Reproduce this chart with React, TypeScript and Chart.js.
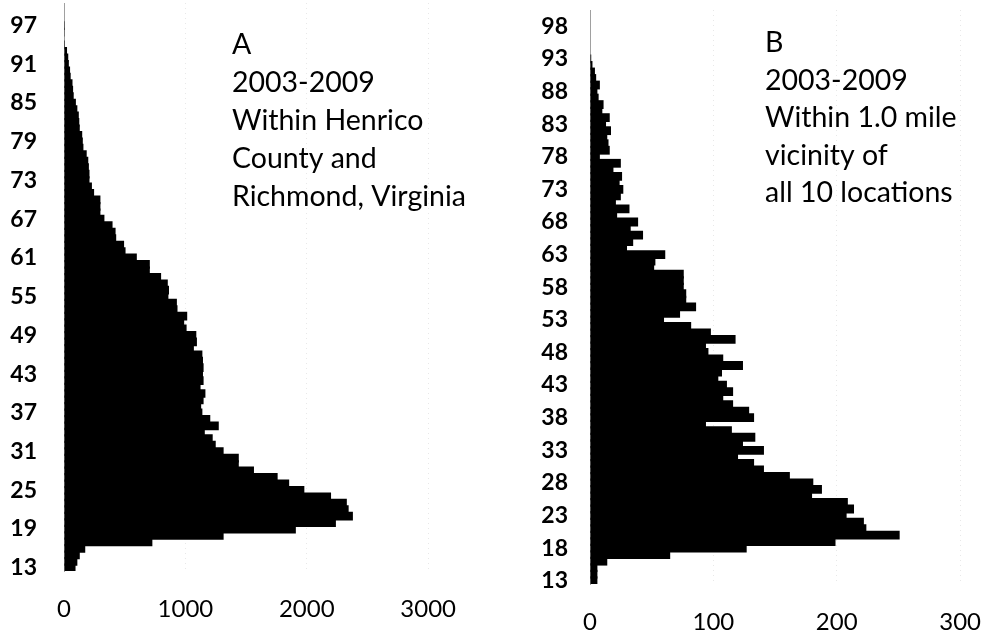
import React, { useEffect, useRef } from "react";
import { Chart, registerables } from "chart.js";

Chart.register(...registerables);

// Age categories (shared by both panels)
const ages = [
  13, 14, 15, 16, 17, 18, 19, 20, 21, 22,
  23, 24, 25, 26, 27, 28, 29, 30, 31, 32,
  33, 34, 35, 36, 37, 38, 39, 40, 41, 42,
  43, 44, 45, 46, 47, 48, 49, 50, 51, 52,
  53, 54, 55, 56, 57, 58, 59, 60, 61, 62,
  63, 64, 65, 66, 67, 68, 69, 70, 71, 72,
  73, 74, 75, 76, 77, 78, 79, 80, 81, 82,
  83, 84, 85, 86, 87, 88, 89, 90, 91, 92,
  93, 94, 95, 96, 97, 98, 99, 100,
];

// Panel A: Henrico County and Richmond
const countsA = [
  95, 110, 130, 175, 728, 1315, 1910, 2240, 2380, 2345,
  2330, 2200, 1980, 1855, 1760, 1565, 1440, 1440, 1315, 1250,
  1225, 1160, 1275, 1205, 1140, 1130, 1150, 1165, 1125, 1150,
  1145, 1150, 1145, 1140, 1070, 1095, 1090, 1010, 990, 1015,
  935, 930, 860, 865, 855, 800, 707, 707, 600, 507,
  495, 430, 425, 400, 333, 300, 300, 300, 248, 230,
  210, 210, 205, 200, 187, 160, 155, 150, 130, 126,
  122, 110, 98, 80, 75, 70, 55, 50, 40, 35,
  25, 8, 4, 2, 1, 0, 0, 0,
];

// Panel B: within 1.0 mile of all 10 locations
const countsB = [
  6, 6, 6, 14, 65, 127, 199, 251, 224, 222,
  208, 214, 209, 180, 188, 181, 162, 141, 133, 120,
  141, 124, 134, 115, 94, 133, 129, 116, 108, 116,
  111, 104, 107, 124, 108, 96, 94, 118, 98, 82,
  60, 73, 86, 78, 78, 76, 76, 76, 52, 53,
  61, 30, 35, 43, 33, 39, 22, 32, 21, 25,
  27, 24, 26, 19, 25, 8, 16, 15, 14, 17,
  13, 16, 10, 11, 7, 6, 8, 5, 4, 2,
  1, 0, 0, 0, 0, 0, 0, 0,
];

const tickAgesA = [13, 19, 25, 31, 37, 43, 49, 55, 61, 67, 73, 79, 85, 91, 97];
const tickAgesB = [13, 18, 23, 28, 33, 38, 43, 48, 53, 58, 63, 68, 73, 78, 83, 88, 93, 98];
const xTicksA = [0, 1000, 2000, 3000];
const xTicksB = [0, 100, 200, 300];

const notesA = ["A", "2003-2009", "Within Henrico", "County and", "Richmond, Virginia"];
const notesB = ["B", "2003-2009", "Within 1.0 mile", "vicinity of", "all 10 locations"];

const FONT = "Lato, 'Open Sans', sans-serif";

const notePlugin = {
  id: "notes",
  afterDraw(chart: any, _args: any, opts: any) {
    const ctx = chart.ctx;
    ctx.save();
    ctx.font = opts.font;
    ctx.fillStyle = "#000";
    ctx.textBaseline = "middle";
    ctx.textAlign = "left";
    opts.lines.forEach((t: string, i: number) => {
      ctx.fillText(t, opts.x, opts.y + i * opts.step);
    });
    ctx.restore();
  },
};

type PanelCfg = {
  counts: number[];
  tickAges: number[];
  xTicks: number[];
  xMax: number;
  yAxisWidth: number;
  xAxisHeight: number;
  padTop: number;
  padRight: number;
  yPad: number;
  xPad: number;
  notes: string[];
  noteX: number;
  noteY: number;
  noteStep: number;
};

function makeChart(canvas: HTMLCanvasElement, c: PanelCfg) {
  return new Chart(canvas, {
    type: "bar",
    data: {
      labels: ages.map(String),
      datasets: [
        {
          data: c.counts,
          backgroundColor: "#000",
          borderWidth: 0,
          barPercentage: 1.35,
          categoryPercentage: 1,
          inflateAmount: 0,
        },
      ],
    },
    options: {
      indexAxis: "y",
      responsive: false,
      animation: false,
      datasets: { bar: { barPercentage: 1.35, categoryPercentage: 1 } },
      layout: { padding: { top: c.padTop, right: c.padRight, left: 0, bottom: 0 } },
      plugins: {
        legend: { display: false },
        tooltip: { enabled: false },
        notes: {
          lines: c.notes,
          x: c.noteX,
          y: c.noteY,
          step: c.noteStep,
          font: `28.5px ${FONT}`,
        },
      } as any,
      scales: {
        x: {
          type: "linear",
          min: 0,
          max: c.xMax,
          afterBuildTicks: (s: any) => {
            s.ticks = c.xTicks.map((v) => ({ value: v }));
          },
          afterFit: (s: any) => {
            s.height = c.xAxisHeight;
          },
          ticks: {
            color: "#000",
            padding: c.xPad,
            font: { family: FONT, size: 24 },
            maxRotation: 0,
            callback: (v: any) => String(v),
          },
          grid: {
            drawTicks: false,
            color: (ctx: any) => (ctx.tick && ctx.tick.value === 0 ? "rgba(0,0,0,0)" : "rgba(0,0,0,0.09)"),
            lineWidth: 1,
          },
          border: { display: false, dash: [1, 4] },
        },
        y: {
          type: "category",
          reverse: true,
          afterFit: (s: any) => {
            s.width = c.yAxisWidth;
            s.paddingTop = 0;
            s.paddingBottom = 0;
          },
          ticks: {
            autoSkip: false,
            color: "#000",
            padding: c.yPad,
            font: { family: FONT, size: 23, weight: "bold" },
            callback: (v: any) => {
              const age = ages[v as number];
              return c.tickAges.includes(age) ? String(age) : "";
            },
          },
          grid: { display: false, drawTicks: false },
          border: { display: true, color: "#a0a0a0", dash: [2, 2], width: 1 },
        },
      },
    } as any,
    plugins: [notePlugin as any],
  });
}

function Panel({ left, width, cfg }: { left: number; width: number; cfg: PanelCfg }) {
  const ref = useRef<HTMLCanvasElement | null>(null);
  useEffect(() => {
    if (!ref.current) return;
    const chart = makeChart(ref.current, cfg);
    return () => chart.destroy();
  }, []);
  return (
    <canvas
      ref={ref}
      width={width}
      height={634}
      style={{ position: "absolute", left, top: 0, width, height: 634 }}
    />
  );
}

const cfgA: PanelCfg = {
  counts: countsA,
  tickAges: tickAgesA,
  xTicks: xTicksA,
  xMax: 3000,
  yAxisWidth: 64,
  xAxisHeight: 63,
  padTop: 3,
  padRight: 42,
  yPad: 27,
  xPad: 24,
  notes: notesA,
  noteX: 232,
  noteY: 45,
  noteStep: 38,
};

const cfgB: PanelCfg = {
  counts: countsB,
  tickAges: tickAgesB,
  xTicks: xTicksB,
  xMax: 300,
  yAxisWidth: 110,
  xAxisHeight: 50,
  padTop: 10,
  padRight: 23,
  yPad: 22,
  xPad: 24,
  notes: notesB,
  noteX: 285,
  noteY: 43,
  noteStep: 37.5,
};

export default function App() {
  return (
    <div
      style={{
        position: "fixed",
        left: 0,
        top: 0,
        width: 1005,
        height: 634,
        background: "#fff",
        overflow: "hidden",
      }}
    >
      <Panel left={0} width={480} cfg={cfgA} />
      <Panel left={480} width={525} cfg={cfgB} />
    </div>
  );
}
